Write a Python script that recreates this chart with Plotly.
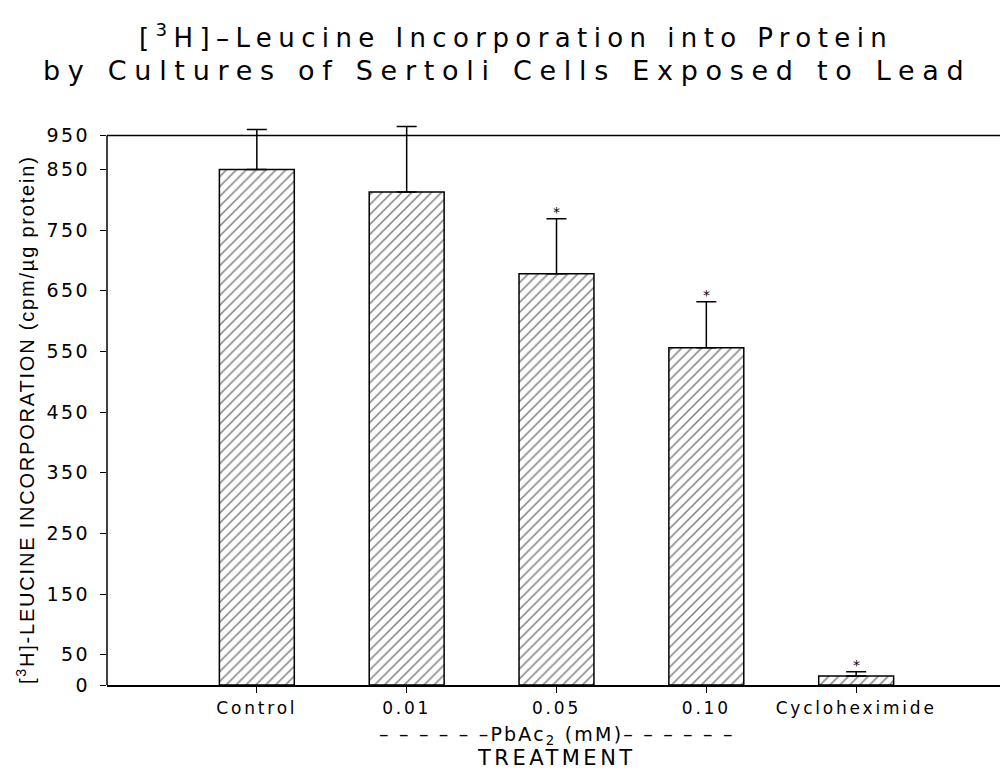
import plotly.graph_objects as go

# ---- data ----
categories = ["Control", "0.01", "0.05", "0.10", "Cycloheximide"]
positions = [1, 2, 3, 4, 5]
means = [850, 813, 678, 556, 15]
errors_up = [66, 108, 91, 76, 7]
significant = [False, False, True, True, True]

y_tick_values = [0, 50, 150, 250, 350, 450, 550, 650, 750, 850, 906]
y_tick_labels = ["0", "50", "150", "250", "350", "450", "550", "650", "750", "850", "950"]
y_frame_top = 906      # value at the top frame line (labelled "950" in the original)
y_range_top = 930      # extra headroom so error bars above the frame are not clipped

FONT = "DejaVu Sans"
NARROW = "Liberation Sans Narrow, Liberation Sans, Arial"


def spaced(t, px):
    return '<span style="letter-spacing:%spx">%s</span>' % (px, t)


fig = go.Figure()
fig.add_trace(go.Bar(
    x=positions, y=means, width=0.5,
    marker=dict(color="white",
                line=dict(color="black", width=1.5),
                pattern=dict(shape="/", size=7, solidity=0.22,
                             fgcolor="black", bgcolor="white")),
    error_y=dict(type="data", symmetric=False, array=errors_up,
                 arrayminus=[0] * len(means), color="black",
                 thickness=1.5, width=10),
    showlegend=False,
))

annotations = []
for xp, m, e, s in zip(positions, means, errors_up, significant):
    if s:
        annotations.append(dict(x=xp, y=m + e, xref="x", yref="y", text="*",
                                showarrow=False, yanchor="bottom", yshift=-3,
                                font=dict(family=FONT, size=14, color="black")))

annotations += [
    # title lines
    dict(x=0.5, y=1, xref="paper", yref="paper", xanchor="center", yanchor="middle",
         xshift=-41, yshift=85,
         text=spaced("[<sup>3</sup>H]–Leucine Incorporation into Protein", 6.4),
         showarrow=False, font=dict(family=FONT, size=26, color="black")),
    dict(x=0.5, y=1, xref="paper", yref="paper", xanchor="center", yanchor="middle",
         xshift=-50, yshift=51,
         text=spaced("by Cultures of Sertoli Cells Exposed to Lead", 7.7),
         showarrow=False, font=dict(family=FONT, size=27, color="black")),
    # x-axis group label and title
    dict(x=3, y=0, xref="x", yref="paper", yanchor="middle", yshift=-50,
         text=spaced("– – – – – –PbAc<sub>2</sub> (mM)– – – – – –", 2.2),
         showarrow=False, font=dict(family=FONT, size=19, color="black")),
    dict(x=3, y=0, xref="x", yref="paper", yanchor="middle", yshift=-73,
         text=spaced("TREATMENT", 3.5), showarrow=False,
         font=dict(family=FONT, size=21, color="black")),
    # y-axis title
    dict(x=0, y=0.5, xref="paper", yref="paper", xanchor="center", yanchor="middle",
         xshift=-82, yshift=-17, textangle=-90,
         text=spaced("[<sup>3</sup>H]-LEUCINE INCORPORATION (cpm/µg protein)", 1.8),
         showarrow=False, font=dict(family=NARROW, size=20, color="black")),
]

shapes = [
    dict(type="line", xref="paper", yref="y", x0=0, x1=1, y0=y_frame_top, y1=y_frame_top,
         line=dict(color="black", width=1.5)),
    dict(type="line", xref="paper", yref="y", x0=0, x1=0, y0=0, y1=y_frame_top,
         line=dict(color="black", width=1.5)),
    dict(type="line", xref="paper", yref="y", x0=1, x1=1, y0=0, y1=255,
         line=dict(color="black", width=1.5)),
]

fig.update_layout(
    width=1000, height=762,
    paper_bgcolor="white", plot_bgcolor="white",
    margin=dict(l=99, r=2, t=113, b=85),
    xaxis=dict(range=[0, 6], tickvals=positions,
               ticktext=[spaced(c, 2.8) for c in categories],
               showgrid=False, zeroline=False, showline=True, linecolor="black",
               linewidth=1.5, ticks="outside", ticklen=6, tickcolor="black",
               automargin=False, ticklabelstandoff=1,
               tickfont=dict(family=FONT, size=17, color="black")),
    yaxis=dict(range=[0, y_range_top], tickvals=y_tick_values,
               ticktext=[spaced(t, 2.5) for t in y_tick_labels],
               showgrid=False, zeroline=False, showline=False,
               ticks="outside", ticklen=6, tickcolor="black", tickwidth=1.2,
               automargin=False, ticklabelstandoff=6,
               tickfont=dict(family=FONT, size=19, color="black")),
    annotations=annotations,
    shapes=shapes,
)

fig.write_html("out.html")
